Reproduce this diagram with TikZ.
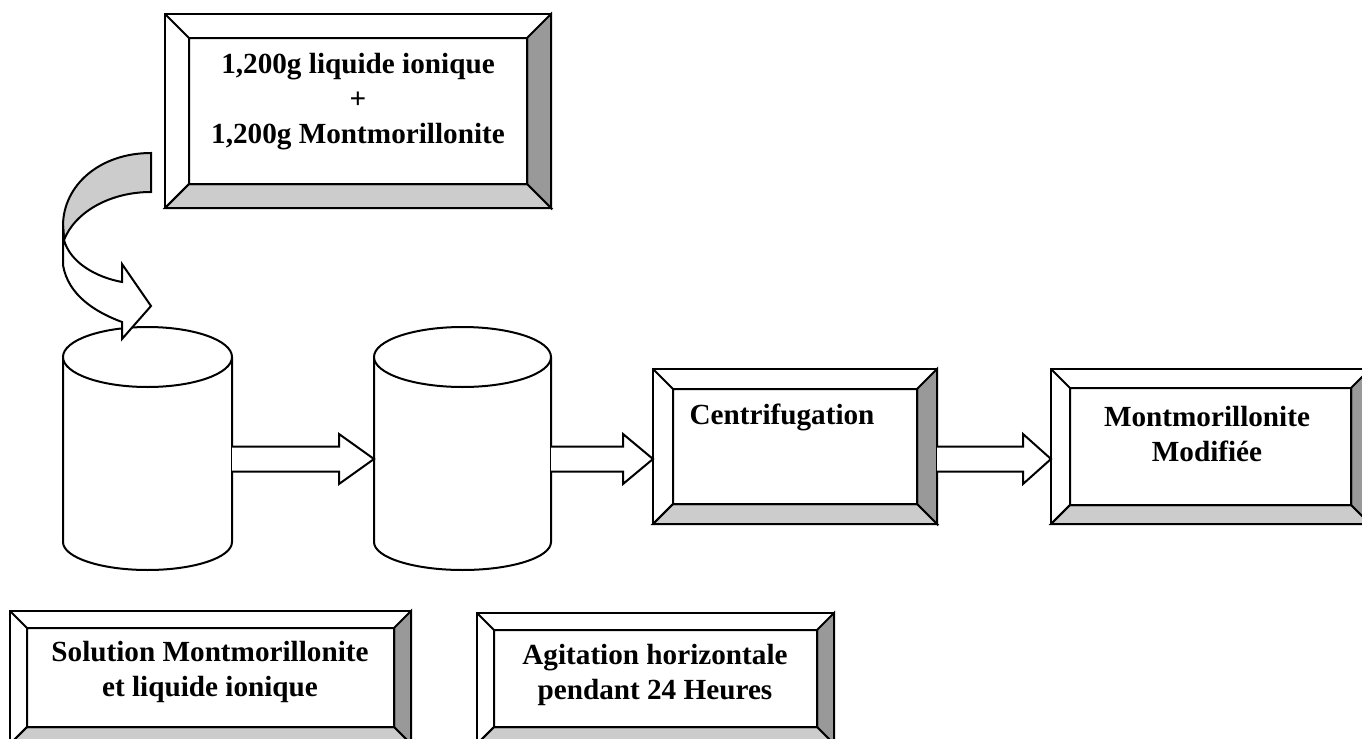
\documentclass[tikz,border=0pt]{standalone}
\usepackage{fontspec}
\setmainfont{Liberation Serif}
\usetikzlibrary{calc, fit, positioning}
\definecolor{bevdark}{RGB}{153,153,153}
\definecolor{bevlight}{RGB}{204,204,204}

\tikzset{
  bevelbox/.style={draw, fill=white, inner sep=0pt, outer sep=0pt},
  boxtext/.style={align=center, inner sep=0pt, font=\fontsize{14.6}{17.5}\selectfont\bfseries},
}

% bevel of a box node: #1 node name, #2 depth
\newcommand{\bevel}[2]{%
  \path (#1.north west) ++(#2,#2) coordinate (#1-a)
        (#1.north east) ++(-#2,#2) coordinate (#1-b)
        (#1.south east) ++(-#2,-#2) coordinate (#1-c)
        (#1.south west) ++(#2,-#2) coordinate (#1-d);
  \filldraw[fill=bevdark] (#1.north east) -- (#1.south east) -- (#1-c) -- (#1-b) -- cycle;
  \filldraw[fill=bevlight] (#1.south west) -- (#1.south east) -- (#1-c) -- (#1-d) -- cycle;
  \draw (#1.north west) -- (#1-a) (#1-a) rectangle (#1-c) (#1.south west) -- (#1-d);
}

% block arrow: [#1 head length] from #2 to #3
\newcommand{\blockarrow}[3][30]{%
  \draw[fill=white] ($(#2)+(0,-12.5)$) -- ($(#3)+(-#1,-12.5)$) -- ($(#3)+(-#1,-25)$) -- (#3)
    -- ($(#3)+(-#1,25)$) -- ($(#3)+(-#1,12.5)$) -- ($(#2)+(0,12.5)$);
}

\begin{document}
\begin{tikzpicture}[x=0.5pt, y=-0.5pt, line width=1pt]
  \useasboundingbox (0,0) rectangle (1362,739);

  % boxes
  \node[bevelbox, fit={(165,14) (551,208)}] (mix) {};
  \bevel{mix}{24}
  \node[boxtext] (mix-txt) at (358,102) {1,200g liquide ionique\\+\\1,200g Montmorillonite};

  \node[bevelbox, fit={(653,369) (937,524)}] (centri) {};
  \bevel{centri}{20}
  \node[boxtext] (centri-txt) at (782,417) {Centrifugation};

  \node[bevelbox, fit={(1051,369) (1370,524)}] (modif) {};
  \bevel{modif}{19}
  \node[boxtext] (modif-txt) at (1207,434) {Montmorillonite\\Modifiée};

  \node[bevelbox, fit={(10,611) (411,744)}] (sol) {};
  \bevel{sol}{17}
  \node[boxtext] (sol-txt) at (210,672) {Solution Montmorillonite\\et liquide ionique};

  \node[bevelbox, fit={(477,613) (834,744)}] (agit) {};
  \bevel{agit}{17}
  \node[boxtext] (agit-txt) at (655,675) {Agitation horizontale\\pendant 24 Heures};

  % cylinders
  \draw[fill=white] (63,357) -- (63,542) arc[start angle=180, end angle=360, x radius=42.25pt, y radius=14pt] -- (232,357);
  \draw[fill=white] (147.5,357) ellipse [x radius=42.25pt, y radius=15pt];
  \draw[fill=white] (374,357) -- (374,542) arc[start angle=180, end angle=360, x radius=44.25pt, y radius=14pt] -- (551,357);
  \draw[fill=white] (462.5,357) ellipse [x radius=44.25pt, y radius=15pt];

  \coordinate (cyl1) at (232,459);
  \coordinate (cyl2-in) at (374,459);
  \coordinate (cyl2) at (551,459);
  \coordinate (centri-in) at (centri.west |- cyl2);
  \coordinate (centri-out) at (centri.east |- cyl2);
  \coordinate (modif-in) at (modif.west |- cyl2);

  % block arrows
  \blockarrow[35]{cyl1}{cyl2-in}
  \blockarrow{cyl2}{centri-in}
  \blockarrow[28]{centri-out}{modif-in}

  % curved arrow
  \filldraw[fill=bevlight] (151,153) .. controls (100,153) and (63,185) .. (63,226) -- (64,240)
    .. controls (75,212) and (110,192) .. (151,192) -- cycle;
  \filldraw[fill=white] (63,226) -- (63,265) .. controls (68,295) and (95,312) .. (122,322)
    -- (122,339) -- (151,306) -- (122,264) -- (122,282) .. controls (95,277) and (70,262) .. (64,240) -- cycle;
\end{tikzpicture}
\end{document}
